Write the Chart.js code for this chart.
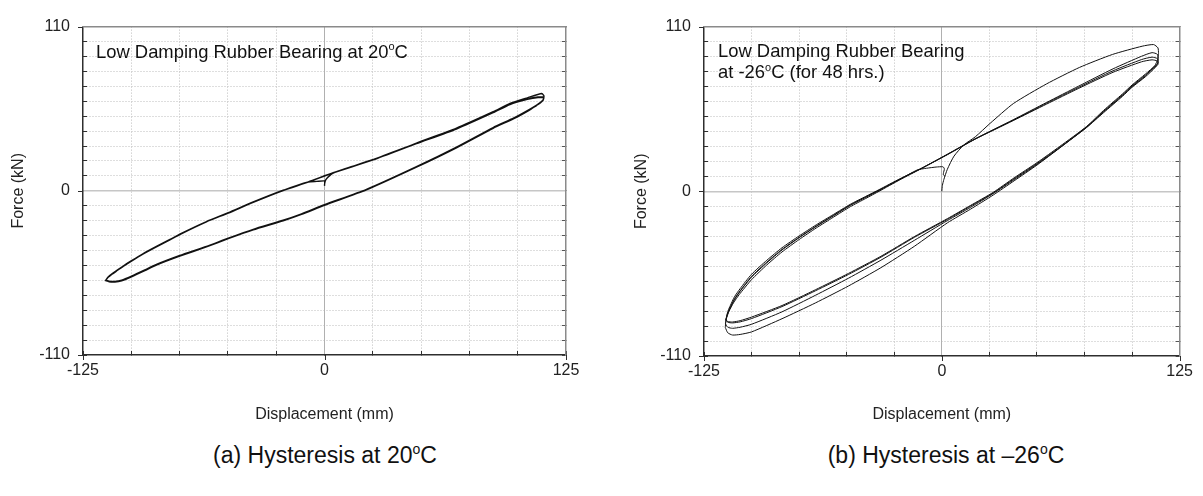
<!DOCTYPE html>
<html>
<head>
<meta charset="utf-8">
<script src="https://cdn.jsdelivr.net/npm/chart.js@4.4.0/dist/chart.umd.min.js"></script>
<style>
  html, body { margin: 0; padding: 0; background: #fff; }
  body { width: 1203px; height: 496px; position: relative; overflow: hidden;
         font-family: "Liberation Sans", Arial, sans-serif; color: #111; }
  canvas { position: absolute; top: 0; }
  #warm { left: 0; }
  #cold { left: 600px; }
  .caption { position: absolute; top: 442px; width: 400px; text-align: center;
             font-size: 23px; line-height: 27px; white-space: nowrap; }
  .caption sup { font-size: 14px; vertical-align: baseline; position: relative; top: -9px; }
</style>
</head>
<body>
<canvas id="warm" width="600" height="430"></canvas>
<canvas id="cold" width="603" height="430"></canvas>
<div class="caption" style="left:125px">(a) Hysteresis at 20<sup>o</sup>C</div>
<div class="caption" style="left:746px">(b) Hysteresis at &ndash;26<sup>o</sup>C</div>
<script>
// axis ranges and the ticks that carry a label
const dispMin = -125, dispMax = 125, dispStep = 25;
const forceMin = -110, forceMax = 110, forceStep = 10;
const dispLabels = [-125, 0, 125];
const forceLabels = [-110, 0, 110];

// 20ºC bearing, branches in test order: [displacement (mm), force (kN)]
const warmLoad0 = [[0,3.3],[0.1,5],[0.5,7],[1.5,8.8],[3,10.5],[4.5,11.9],[12,15.4],[25.2,21],[47.6,32],[68.3,42],[87.3,53],[96,58.5],[105,62.3],[112.5,65.2],[113.6,63.6]];
const warmReturn1 = [[113.6,63.6],[113.4,61.5],[112,59.4],[110,57.6],[105.9,54.4],[98,48.8],[87.3,42.4],[68.3,29.3],[47.6,16.2],[21.7,1],[0,-9.3],[-11.9,-15.4],[-21.4,-19.7],[-36.9,-25.8],[-49.8,-31.7],[-61.1,-37.2],[-74.9,-43.3],[-87,-49.3],[-93,-53],[-99.9,-57.1],[-105,-59.8],[-108.5,-60.7],[-111.5,-60.6],[-113.2,-59.8]];
const warmLoad1 = [[-113.2,-59.8],[-112,-57.8],[-110,-55.6],[-107.7,-53.5],[-104,-50.2],[-99.9,-46.8],[-94,-42.2],[-87,-37.3],[-80,-32.6],[-74.9,-29],[-61.1,-20.6],[-49.8,-14.7],[-36.9,-7.5],[-21.4,0.4],[-8.4,6],[4.5,12.1],[25.2,20.9],[47.6,31.8],[68.3,41.6],[87.3,52.5],[96,58],[105,61.4],[110.5,62.8],[113.3,62.8]];
const warmReturn2 = [[113.3,62.8],[113.3,61],[111.8,59],[109.8,57.3],[105.9,54.1],[98,48.5],[87.3,42.1],[68.3,29],[47.6,16],[21.7,0.8],[0,-9.5],[-11.9,-15.6],[-21.4,-19.9],[-36.9,-26],[-49.8,-31.9],[-61.1,-37.4],[-74.9,-43.6],[-87,-49.6],[-93,-53.3],[-99.9,-57.4],[-105,-60.1],[-108.5,-61],[-111.5,-60.8],[-113.3,-60.1]];
const warmLoad2 = [[-113.3,-60.1],[-112.1,-58.1],[-110,-55.9],[-107.7,-53.8],[-104,-50.5],[-99.9,-47.1],[-94,-42.5],[-87,-37.6],[-80,-32.9],[-74.9,-29.3],[-61.1,-20.8],[-49.8,-14.9],[-36.9,-7.7],[-21.4,0.2],[-8.4,5.8],[4.5,12],[25.2,20.7],[47.6,31.6],[68.3,41.4],[87.3,52.3],[96,57.8],[105,61.2],[110.5,62.5],[113.4,62.4]];
const warmReturn3 = [[113.4,62.4],[113.2,60.7],[111.7,58.8],[109.7,57.1],[105.9,53.9],[98,48.3],[87.3,41.9],[68.3,28.8],[47.6,15.8],[21.7,0.6],[0,-9.7],[-11.9,-15.8],[-21.4,-20.1],[-36.9,-26.2],[-49.8,-32.1],[-61.1,-37.6],[-74.9,-43.8],[-87,-49.8],[-93,-53.5],[-99.9,-57.6],[-105,-60.3],[-108.5,-61.1],[-111.5,-60.9],[-113.2,-60]];
const warmLoad3 = [[-113.2,-60],[-112,-58],[-110,-55.8],[-107.7,-53.6],[-104,-50.3],[-99.9,-46.9],[-94,-42.3],[-87,-37.4],[-80,-32.7],[-74.9,-29.1],[-61.1,-20.7],[-49.8,-14.8],[-36.9,-7.6],[-21.4,0.3],[-8.4,5.9],[-4,6.3],[0,6.6],[0.1,5.4]];

// -26ºC bearing (48 hrs.), branches in test order
const coldLoad0 = [[0,0],[0.3,4],[1.1,8],[2.9,14.7],[6.4,23.5],[11.6,31],[17.6,36.4],[25.4,45.4],[37.6,58.6],[55,71.7],[72.3,82.7],[89.7,91.4],[105.3,96.9],[111.3,98],[113.6,95.8],[113.9,92]];
const coldReturn1 = [[113.9,92],[113.4,88],[112,84],[107,77],[100,70],[95,64],[85,53],[76,43],[62,29],[50,17.5],[38,7],[27,-2.5],[15,-12],[3,-21],[-14.5,-36.8],[-32,-51],[-49,-63.2],[-66.5,-74.6],[-84,-85.1],[-100,-93.9],[-106,-95.6],[-110,-96],[-112.5,-94.5],[-113.8,-91]];
const coldLoad1 = [[-113.8,-91],[-113.6,-87.5],[-113,-84],[-111.8,-80],[-109.5,-74.5],[-106.5,-69],[-100,-59],[-92,-49.2],[-84,-40.5],[-75,-32.2],[-66,-24.5],[-57,-17.3],[-48,-10.2],[-40,-4.8],[-33,0],[-22,7.7],[-11,15],[3,24.8],[17.5,35],[37.5,47.8],[55,59.3],[72,70.3],[90,81.8],[105,90.2],[110.5,92.6],[113.3,91.5],[113.8,88]];
const coldReturn2 = [[113.8,88],[113.4,85.5],[112,82.5],[107,76.5],[100,69.5],[95,63.5],[85,52.5],[76,42.5],[62,29],[50,18],[38,7.8],[27,-1.5],[15,-10.8],[3,-19.5],[-14.5,-32.8],[-32,-46],[-49,-58],[-66.5,-69.5],[-84,-80.5],[-100,-88.8],[-106,-90.8],[-110,-91.5],[-112.5,-90.8],[-113.7,-88.5]];
const coldLoad2 = [[-113.7,-88.5],[-113.4,-85.5],[-112.7,-82],[-111.5,-78.3],[-109,-72.3],[-106,-66.8],[-100,-57.3],[-92,-47.8],[-84,-39.2],[-75,-31],[-66,-23.5],[-57,-16.4],[-48,-9.3],[-40,-4],[-33,0.6],[-22,8.1],[-11,15.2],[3,24.7],[17.5,35],[37.5,47.5],[55,58.8],[72,69.5],[90,80.5],[105,88],[110.5,89.6],[113.3,88.6],[113.7,86]];
const coldReturn3 = [[113.7,86],[113.3,85],[112.2,84],[107,78.3],[100,71],[95,65.1],[85,54],[76,43.2],[62,30],[50,19.1],[38,9],[27,-0.7],[15,-9.5],[3,-18.2],[-14.5,-30.3],[-32,-43.4],[-49,-54.8],[-66.5,-65.8],[-84,-76.3],[-100,-84],[-106,-86.4],[-110,-87.3],[-112.5,-87],[-113.5,-85.8]];
const coldLoad3 = [[-113.5,-85.8],[-113,-82.8],[-112.3,-79.6],[-111.2,-76.4],[-109,-70.5],[-106,-65],[-100,-55.4],[-92,-46.1],[-84,-37.7],[-75,-29.8],[-66,-22.4],[-57,-15.5],[-48,-8.6],[-40,-3.4],[-33,1.1],[-22,8.4],[-11,15.1],[3,24.5],[17.5,34.8],[37.5,47.2],[55,58.2],[72,68.8],[90,79.5],[105,86.5],[110.5,87.8],[113.3,87],[113.7,85]];
const coldReturn4 = [[113.7,85],[113.2,84],[112,83],[107,77.6],[100,70.4],[95,64.5],[85,53.4],[76,42.6],[62,29.4],[50,18.5],[38,8.4],[27,-1.2],[15,-10],[3,-18.7],[-14.5,-30.8],[-32,-44],[-49,-55.5],[-66.5,-66.5],[-84,-77],[-100,-85],[-106,-87.2],[-110,-87.9],[-112.5,-87.5],[-113.5,-86]];
const coldLoad4 = [[-113.5,-86],[-113,-83.6],[-112.3,-80.8],[-111.2,-77.8],[-109,-72],[-106,-66.4],[-100,-56.8],[-92,-47.3],[-84,-38.8],[-75,-30.7],[-66,-23.2],[-57,-16.1],[-48,-9.1],[-40,-3.9],[-33,0.7],[-22,8],[-13,14.2],[-8,15.4],[-3,16.2],[0.5,16.4],[1.2,15.6],[1.3,14.5],[0.9,12.5],[0.8,11],[1.6,10]];

Chart.defaults.font.family = '"Liberation Sans", Arial, sans-serif';

// joins the branches into one continuous trace
function toPoints(branches) {
    return branches.flat().map(([x, y]) => ({ x: x, y: y }));
}

function hasLabel(list, v) {
    return list.some(l => Math.abs(l - v) < 1e-6);
}

// text in the upper-left corner of the plot, with a raised "o" for degrees
const notePlugin = {
    id: 'note',
    afterDraw(chart, args, opts) {
        const { ctx, chartArea } = chart;
        ctx.save();
        ctx.fillStyle = '#111';
        ctx.textBaseline = 'alphabetic';
        opts.lines.forEach((line, i) => {
            let x = chartArea.left + opts.dx;
            const y = chartArea.top + opts.dy + i * opts.gap;
            line.forEach(([text, sup]) => {
                ctx.font = (sup ? '11px' : '18.4px') + ' "Liberation Sans", Arial, sans-serif';
                ctx.fillText(text, x, sup ? y - 7.5 : y);
                x += ctx.measureText(text).width;
            });
        });
        ctx.restore();
    }
};

// short outward marks at the labelled ticks of the left and bottom axes
const labelMarks = {
    id: 'labelMarks',
    afterDraw(chart) {
        const { ctx, chartArea, scales } = chart;
        ctx.save();
        ctx.strokeStyle = '#2e2e2e';
        ctx.lineWidth = 1;
        ctx.beginPath();
        forceLabels.forEach(v => {
            const py = Math.round(scales.y.getPixelForValue(v)) + 0.5;
            ctx.moveTo(chartArea.left - 5, py);
            ctx.lineTo(chartArea.left, py);
        });
        dispLabels.forEach(v => {
            const px = Math.round(scales.x.getPixelForValue(v)) + 0.5;
            ctx.moveTo(px, chartArea.bottom);
            ctx.lineTo(px, chartArea.bottom + 5);
        });
        ctx.stroke();
        ctx.restore();
    }
};

function makeChart(canvasId, points, box, note) {
    const dark = '#2e2e2e';
    const frame = '#8a8a8a';
    const dotted = '#bcbcbc';
    const hidden = 'rgba(0,0,0,0)';

    new Chart(document.getElementById(canvasId), {
        type: 'scatter',
        data: {
            datasets: [{
                data: points,
                showLine: true,
                borderColor: '#111',
                borderWidth: box.lineWidth,
                pointRadius: 0,
                tension: 0.2,
                fill: false
            }]
        },
        options: {
            responsive: false,
            animation: false,
            events: [],
            layout: { padding: { left: 0, right: box.right, top: box.top, bottom: 0 } },
            plugins: {
                legend: { display: false },
                tooltip: { enabled: false },
                note: note
            },
            scales: {
                x: {
                    type: 'linear',
                    position: 'bottom',
                    min: dispMin,
                    max: dispMax,
                    afterFit: s => { s.height = box.axisH; },
                    ticks: {
                        stepSize: dispStep,
                        autoSkip: false,
                        maxRotation: 0,
                        padding: 10,
                        color: '#222',
                        font: { size: 16 },
                        callback: v => hasLabel(dispLabels, v) ? String(v) : ''
                    },
                    grid: {
                        color: c => (c.tick.value === 0 || c.tick.value === dispMin || c.tick.value === dispMax) ? hidden : dotted,
                        lineWidth: 1,
                        tickLength: -4,
                        tickColor: dark
                    },
                    border: { color: dark, width: 1.5, dash: [1, 2] },
                    title: {
                        display: true,
                        text: 'Displacement (mm)',
                        color: '#222',
                        font: { size: 16 },
                        padding: { top: 0, bottom: 6 }
                    }
                },
                y: {
                    type: 'linear',
                    position: 'left',
                    min: forceMin,
                    max: forceMax,
                    afterFit: s => { s.width = box.axisW; },
                    ticks: {
                        stepSize: forceStep,
                        autoSkip: false,
                        padding: 17,
                        color: '#222',
                        font: { size: 16 },
                        callback: v => hasLabel(forceLabels, v) ? String(v) : ''
                    },
                    grid: {
                        color: c => (c.tick.value === 0 || c.tick.value === forceMin || c.tick.value === forceMax) ? hidden : dotted,
                        lineWidth: 1,
                        tickLength: -4,
                        tickColor: dark
                    },
                    border: { color: dark, width: 1.5, dash: [1, 2] },
                    title: {
                        display: true,
                        text: 'Force (kN)',
                        color: '#222',
                        font: { size: 16 },
                        padding: { top: box.titleGap, bottom: 0 }
                    }
                },
                // frame along the top and right edges
                x2: {
                    type: 'linear',
                    position: 'top',
                    min: dispMin,
                    max: dispMax,
                    afterFit: s => { s.height = 0; },
                    ticks: { display: false },
                    grid: { drawOnChartArea: false, drawTicks: false },
                    border: { color: frame, width: 1.5 }
                },
                y2: {
                    type: 'linear',
                    position: 'right',
                    min: forceMin,
                    max: forceMax,
                    afterFit: s => { s.width = 0; },
                    ticks: { display: false, stepSize: forceStep, autoSkip: false },
                    grid: { drawOnChartArea: false, tickLength: -4, tickColor: '#555' },
                    border: { color: frame, width: 1.5 }
                },
                // solid zero lines
                xz: {
                    type: 'linear',
                    position: 'bottom',
                    min: dispMin,
                    max: dispMax,
                    afterBuildTicks: s => { s.ticks = [{ value: 0 }]; },
                    afterFit: s => { s.height = 0; },
                    ticks: { display: false },
                    grid: { color: '#b0b0b0', lineWidth: 1, drawTicks: false },
                    border: { display: false }
                },
                yz: {
                    type: 'linear',
                    position: 'left',
                    min: forceMin,
                    max: forceMax,
                    afterBuildTicks: s => { s.ticks = [{ value: 0 }]; },
                    afterFit: s => { s.width = 0; },
                    ticks: { display: false },
                    grid: { color: '#c6c6c6', lineWidth: 1.5, drawTicks: false },
                    border: { display: false }
                }
            }
        },
        plugins: [notePlugin, labelMarks]
    });
}

makeChart('warm',
    toPoints([warmLoad0, warmReturn1, warmLoad1, warmReturn2, warmLoad2, warmReturn3, warmLoad3]),
    { axisW: 83, axisH: 75, top: 19, right: 34, titleGap: 9, lineWidth: 1.4 },
    { dx: 13, dy: 31, gap: 21, lines: [[['Low Damping Rubber Bearing at 20', false], ['o', true], ['C', false]]] });

makeChart('cold',
    toPoints([coldLoad0, coldReturn1, coldLoad1, coldReturn2, coldLoad2, coldReturn3, coldLoad3, coldReturn4, coldLoad4]),
    { axisW: 104, axisH: 74, top: 22, right: 18, titleGap: 32, lineWidth: 1 },
    { dx: 14, dy: 30, gap: 21.5, lines: [
        [['Low Damping Rubber Bearing', false]],
        [['at -26', false], ['o', true], ['C (for 48 hrs.)', false]]
    ] });
</script>
</body>
</html>
